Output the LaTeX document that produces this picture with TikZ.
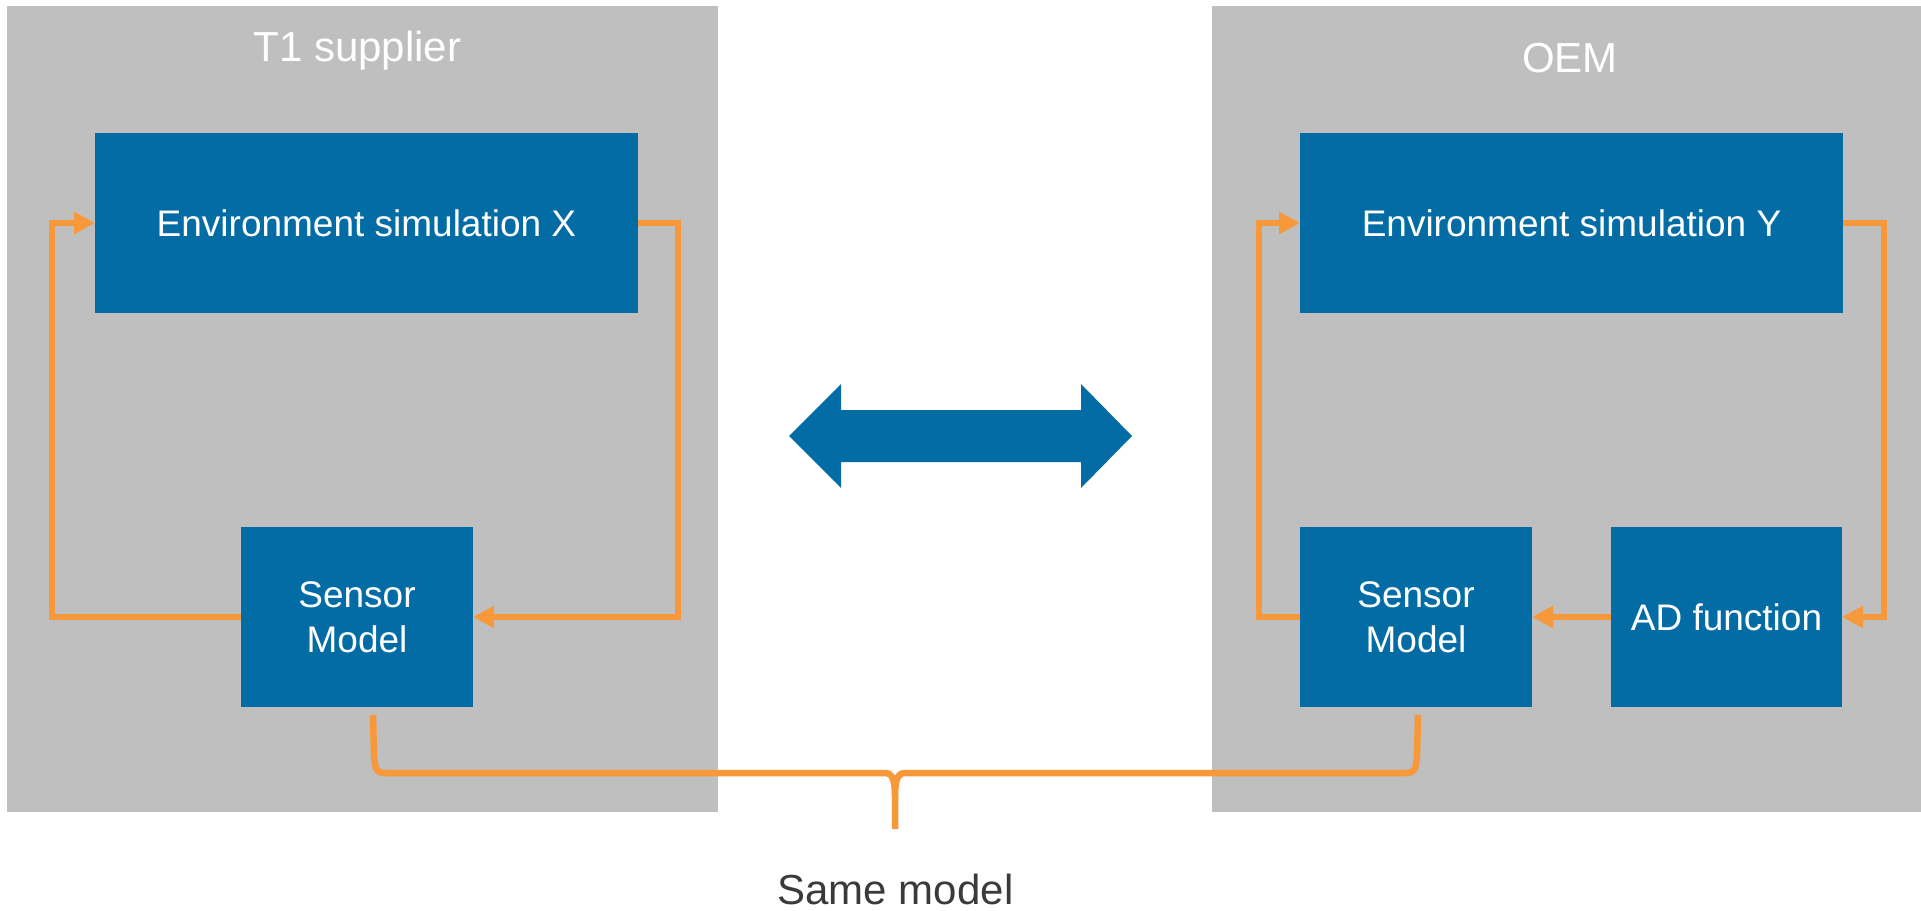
\documentclass[tikz,border=0pt]{standalone}
\usepackage{fontspec}
\setmainfont{Liberation Sans}
\usetikzlibrary{arrows.meta}
\definecolor{panelgrey}{HTML}{BFBFBF}
\definecolor{boxblue}{HTML}{036CA5}
\definecolor{flow}{HTML}{F7993A}
\definecolor{captiongrey}{HTML}{3A3A3A}
\begin{document}
\begin{tikzpicture}[x=1pt,y=-1pt,
  panel/.style={fill=panelgrey, draw=none, inner sep=0pt, outer sep=0pt},
  block/.style={fill=boxblue, text=white, inner sep=0pt, outer sep=0pt,
    minimum height=180pt, align=center, font=\fontsize{37}{45}\selectfont},
  paneltitle/.style={text=white, anchor=base, inner sep=0pt, font=\fontsize{42}{50}\selectfont},
  flowline/.style={draw=flow, line width=6.5pt, line join=miter},
  tip/.style={-{Triangle[length=21pt,width=21pt]}}
]
\useasboundingbox (0,0) rectangle (1921,910);
\fill[white] (0,0) rectangle (1921,910);

% the two organisations
\node[panel, minimum width=711pt, minimum height=806pt] (supplier) at (362.5,409) {};
\node[panel, minimum width=709pt, minimum height=806pt] (oem) at (1566.5,409) {};
\node[paneltitle] (supplierTitle) at (357.5,61) {T1 supplier};
\node[paneltitle] (oemTitle) at (1570,72) {OEM};

% T1 supplier loop
\node[block, minimum width=543pt] (envX) at (366.5,223) {Environment simulation X};
\node[block, minimum width=232pt] (sensorL) at (357,617) {Sensor\\Model};

% OEM loop
\node[block, minimum width=543pt] (envY) at (1571.5,223) {Environment simulation Y};
\node[block, minimum width=232pt] (sensorR) at (1416,617) {Sensor\\Model};
\node[block, minimum width=231pt] (ad) at (1726.5,617) {AD function};

% corners of the feedback loops
\coordinate (lOut) at (678,617);
\coordinate (lBack) at (52,617);
\coordinate (rBack) at (1259,617);
\coordinate (rOut) at (1884,617);

\draw[flowline, tip] (envX.east) -| (lOut) -- (sensorL.east);
\draw[flowline, tip] (sensorL.west) -- (lBack) |- (envX.west);
\draw[flowline, tip] (envY.east) -| (rOut) -- (ad.east);
\draw[flowline, tip] (ad.west) -- (sensorR.east);
\draw[flowline, tip] (sensorR.west) -- (rBack) |- (envY.west);

% exchange between the two parties
\fill[boxblue] (789,436) -- (841,384) -- (841,410) -- (1081,410) -- (1081,384)
  -- (1132,436) -- (1081,488) -- (1081,462) -- (841,462) -- (841,488) -- cycle;

% brace joining both sensor models
\coordinate (braceL) at (373,715);
\coordinate (braceR) at (1418,715);
\coordinate (braceTip) at (895,829);
\draw[flowline, line join=round] (braceL) -- (374,755)
  .. controls (375,771) and (377,773) .. (386,773) -- (885,773)
  .. controls (892,773) and (895,779) .. (895,797) -- (braceTip);
\draw[flowline, line join=round] (braceR) -- (1417,755)
  .. controls (1416,771) and (1414,773) .. (1405,773) -- (905,773)
  .. controls (898,773) and (895,779) .. (895,797);

\node[anchor=base, inner sep=0pt, text=captiongrey, font=\fontsize{42}{50}\selectfont] (same) at (895.5,904) {Same model};
\end{tikzpicture}
\end{document}
